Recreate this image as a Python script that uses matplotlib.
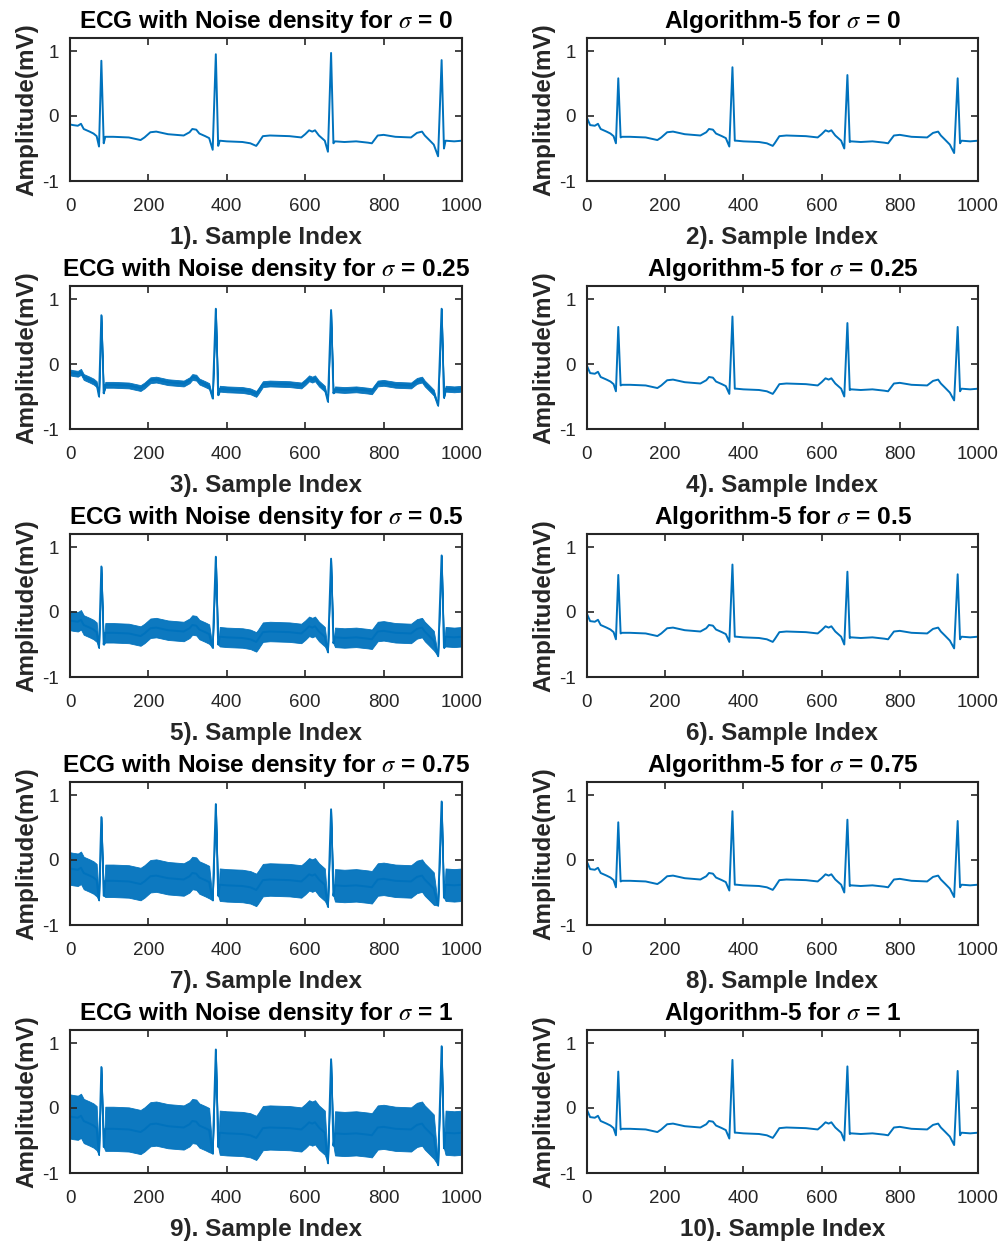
import numpy as np
import matplotlib
matplotlib.use("Agg")
import matplotlib.pyplot as plt

plt.rcParams['font.family'] = ['Liberation Sans', 'DejaVu Sans']
plt.rcParams['mathtext.fontset'] = 'stix'
plt.rcParams['axes.unicode_minus'] = False

LINE = '#0072BD'
DARK = '#262626'

SIGMAS = ['0', '0.25', '0.5', '0.75', '1']

SEG_X = [
    [0, 8, 20, 28, 35, 50, 60, 68],
    [90, 110, 150, 165, 180, 190, 205, 220, 250, 290, 305, 312, 322, 330, 345, 355],
    [382, 400, 440, 460, 475, 480, 492, 510, 560, 590, 600, 610, 618, 625, 635, 650],
    [676, 700, 730, 760, 770, 785, 800, 830, 870, 885, 898, 905, 915, 928],
    [958, 980, 1000],
]
SEG_Y = [
    [-0.13, -0.14, -0.15, -0.12, -0.20, -0.24, -0.27, -0.31],
    [-0.32, -0.32, -0.33, -0.35, -0.37, -0.33, -0.25, -0.24, -0.28, -0.30, -0.25, -0.20, -0.21, -0.27, -0.31, -0.34],
    [-0.38, -0.39, -0.40, -0.42, -0.46, -0.42, -0.31, -0.30, -0.31, -0.33, -0.28, -0.22, -0.24, -0.22, -0.30, -0.38],
    [-0.39, -0.40, -0.39, -0.41, -0.42, -0.30, -0.29, -0.32, -0.33, -0.26, -0.24, -0.30, -0.36, -0.44],
    [-0.38, -0.39, -0.38],
]

# Q, R, S sample positions of the four beats
BEAT_X = [[74, 80, 86], [364, 372, 378], [658, 666, 672], [939, 948, 954]]

# left column: noisy ECG, per panel Q / R / S values of the four beats
NOISY_Q = [[-0.47, -0.52, -0.55, -0.62],
           [-0.50, -0.53, -0.58, -0.64],
           [-0.55, -0.55, -0.62, -0.68],
           [-0.62, -0.62, -0.72, -0.70],
           [-0.72, -0.70, -0.85, -0.88]]
NOISY_R = [[0.85, 0.95, 0.97, 0.86],
           [0.75, 0.85, 0.83, 0.85],
           [0.70, 0.85, 0.82, 0.87],
           [0.66, 0.86, 0.78, 0.90],
           [0.63, 0.90, 0.75, 0.95]]
NOISY_S = [[-0.42, -0.46, -0.42, -0.50],
           [-0.45, -0.48, -0.45, -0.52],
           [-0.50, -0.50, -0.48, -0.55],
           [-0.55, -0.55, -0.55, -0.58],
           [-0.60, -0.60, -0.58, -0.62]]
# half width of the noise band (mV)
NOISE_HW = [0.0, 0.045, 0.15, 0.25, 0.34]

# right column: Algorithm-5 output
FILT_Q = [[-0.42, -0.47, -0.50, -0.57],
          [-0.42, -0.46, -0.50, -0.56],
          [-0.42, -0.46, -0.50, -0.56],
          [-0.42, -0.47, -0.50, -0.57],
          [-0.42, -0.47, -0.50, -0.57]]
FILT_R = [[0.58, 0.75, 0.63, 0.58],
          [0.57, 0.73, 0.63, 0.57],
          [0.57, 0.73, 0.62, 0.58],
          [0.58, 0.75, 0.62, 0.60],
          [0.56, 0.74, 0.64, 0.57]]
FILT_S = [[-0.33, -0.38, -0.40, -0.42],
          [-0.33, -0.38, -0.40, -0.42],
          [-0.33, -0.38, -0.40, -0.42],
          [-0.33, -0.38, -0.40, -0.42],
          [-0.33, -0.38, -0.40, -0.42]]
FILT_START = -0.03


def build_trace(q, r, s, hw, start=None):
    xs, ys, ws = [], [], []
    for k in range(len(SEG_X)):
        xs += SEG_X[k]
        ys += SEG_Y[k]
        ws += [hw] * len(SEG_X[k])
        if k < len(BEAT_X):
            xs += BEAT_X[k]
            ys += [q[k], r[k], s[k]]
            ws += [0, 0, 0]
    if start is not None:
        ys[0] = start
    return np.array(xs), np.array(ys), np.array(ws)


def style_axes(ax, label):
    ax.set_xlim(0, 1000)
    ax.set_ylim(-1, 1.2)
    ax.set_xticks([0, 200, 400, 600, 800, 1000])
    ax.set_yticks([-1, 0, 1])
    ax.tick_params(direction='in', top=True, right=True, length=5, width=1.2,
                   labelsize=13.5, colors=DARK)
    ax.tick_params(axis='x', pad=12)
    ax.tick_params(axis='y', pad=8)
    for sp in ax.spines.values():
        sp.set_linewidth(1.5)
        sp.set_color(DARK)
    ax.set_xlabel(label, fontsize=17.5, fontweight='bold', color=DARK, labelpad=8)
    ax.set_ylabel('Amplitude(mV)', fontsize=17.5, fontweight='bold', color=DARK, labelpad=3)


fig = plt.figure(figsize=(10.02, 12.41), dpi=100)
W, H = 1002, 1241

for i in range(5):
    top = 38 + 248 * i
    bottom = 1 - (top + 143) / H

    axl = fig.add_axes([70 / W, bottom, 392 / W, 143 / H])
    x, y, w = build_trace(NOISY_Q[i], NOISY_R[i], NOISY_S[i], NOISE_HW[i])
    if NOISE_HW[i] > 0:
        axl.fill_between(x, y - w, y + w, color=LINE, linewidth=0.6, alpha=0.95)
    axl.plot(x, y, color=LINE, linewidth=1.4)
    axl.set_title(r'ECG with Noise density for $\sigma$ = ' + SIGMAS[i],
                  fontsize=17.6, fontweight='bold', pad=7)
    style_axes(axl, f'{2 * i + 1}). Sample Index')

    axr = fig.add_axes([587 / W, bottom, 391 / W, 143 / H])
    x, y, w = build_trace(FILT_Q[i], FILT_R[i], FILT_S[i], 0, start=FILT_START)
    axr.plot(x, y, color=LINE, linewidth=1.4)
    axr.set_title(r'Algorithm-5 for $\sigma$ = ' + SIGMAS[i],
                  fontsize=17.6, fontweight='bold', pad=7)
    style_axes(axr, f'{2 * i + 2}). Sample Index')

fig.savefig('out.png', dpi=100)
